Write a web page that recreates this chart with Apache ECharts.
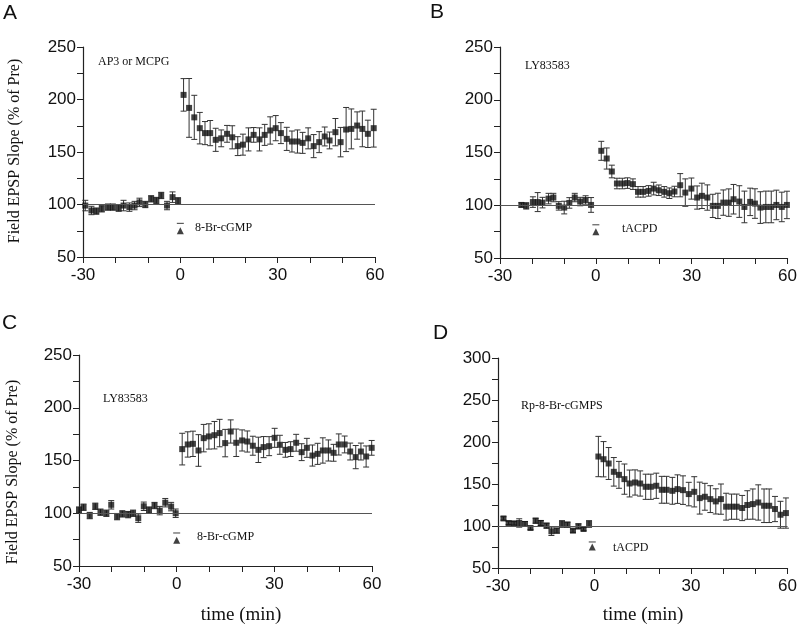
<!DOCTYPE html>
<html>
<head>
<meta charset="utf-8">
<script src="https://cdn.jsdelivr.net/npm/echarts@6/dist/echarts.min.js"></script>
<style>html,body{margin:0;padding:0;background:#fff}#c{width:800px;height:627px}</style>
</head>
<body>
<div id="c"></div>
<script>
// ---- data (time in min, field EPSP slope % of pre, error bar half-length) ----
const timesA = [-29.3,-27.4,-25.9,-24.2,-22.3,-20.8,-19.0,-17.5,-15.7,-14.1,-12.6,-10.8,-9.0,-7.4,-5.9,-4.1,-2.4,-0.7,
  1.0,2.7,4.3,6.0,7.6,9.2,10.9,12.6,14.4,16.0,17.7,19.3,21.0,22.6,24.4,26.0,27.7,29.4,31.0,32.8,34.4,36.1,37.7,39.4,41.1,42.8,44.5,46.0,47.8,49.4,51.1,52.7,54.5,56.1,57.8,59.6];
const valuesA = [99,94.3,93.7,95.9,97.5,97.5,96.5,99,97.5,99,102,100,105.4,103.8,108.6,99,107,103.5,
  204.4,192,183,172.7,168,168,161.6,163,167.3,164,155.6,157,162,166.3,162,166.3,170.5,172.7,168,162.5,160,160,158.7,163,155.6,159.4,164.8,161,168.9,159.4,171.4,172,175.2,172,167.3,172.7];
const errorsA = [5,4,3,3,3,3,3,5,4,4,4,3,3,3,3,4,5,3,
  15.5,28,21,15,11,12,11,8,8,11,9,10,11,7,11,10,13,12,10,11,10,11,10,10,11,10,9,8,13,14,21,19,13,17,13,18];

const timesB = [-23.3,-21.8,-19.7,-18.2,-16.7,-14.8,-13.3,-11.6,-9.9,-8.3,-6.6,-4.9,-3.2,-1.5,
  1.7,3.4,5.0,6.6,8.3,9.9,11.6,13.2,14.8,16.5,18.1,19.7,21.4,23.0,24.6,26.4,28.0,29.9,31.7,33.2,34.9,36.6,38.2,39.9,41.6,43.1,44.9,46.5,48.3,49.8,51.5,53.2,54.9,56.5,58.2,59.8];
const valuesB = [100.3,99.4,103,103,102.5,106.3,107.3,99.4,97.8,102.2,107.3,103.5,105,100.3,
  151.6,144.3,132,120.6,120.6,121,120,112.7,112.7,113.6,115.8,114.2,112.7,111.4,113,119,112,115.8,107.3,108.9,107.3,99.4,99.4,102.5,102.5,105.7,103.5,98.4,103.2,101.6,97.8,98.4,98.4,100.3,98.4,100.3];
const errorsB = [2,3,5,9,5,5,4,4,6,5,4,4,4,7,
  9,10,6,5,5,5,5,5,5,5,6,5,5,5,5,11,13,10,11,12,12,11,12,12,13,14,15,15,13,14,15,15,15,14,14,13];

const timesC = [-30,-28.6,-26.7,-25,-23.4,-21.6,-20.1,-18.3,-16.7,-14.9,-13.4,-11.8,-10.1,-8.5,-6.8,-5.2,-3.5,-1.7,-0.3,
  1.7,3.4,5.0,6.7,8.3,9.9,11.6,13.2,14.9,16.6,18.3,20.1,21.7,23.4,25.1,26.7,28.4,30.1,31.7,33.4,35,36.7,38.4,40.0,41.7,43.3,44.9,46.6,48.2,49.8,51.6,53.3,55.0,56.6,58.2,59.9];
const valuesC = [103,105.7,97.8,106.6,101,100,108,96.8,99.4,98.7,100,95.3,106.6,103,107.3,102.5,110,106.3,100,
  160.8,165.2,165.8,159.5,171.2,172.8,174,176,166.5,177.5,166.8,169,168,164,160.1,162.7,163.6,171.5,164.9,160.1,160.8,166.8,157.9,162,154.7,156.3,159.5,159.5,157.3,165.2,165.2,158.5,153.2,158.5,153.8,162];
const errorsC = [3,3,3,3,3,3,4,3,3,3,3,4,4,3,3,4,4,4,4,
  15,12,12,15,13,12,13,13,13,11,13,10,10,9,12,10,9,9,9,7,7,8,8,9,10,10,12,10,8,10,8,8,11,8,10,7];

const timesD = [-28.3,-26.7,-25,-23.4,-21.6,-19.9,-18.3,-16.7,-14.9,-13.4,-11.7,-10.1,-8.4,-6.7,-5.0,-3.4,-1.7,
  1.2,2.8,4.4,6.0,7.6,9.3,10.9,12.6,14.2,15.9,17.5,19.2,20.9,22.4,24.2,25.8,27.5,29.3,31.0,32.7,34.3,36.0,37.7,39.3,40.9,42.6,44.2,45.9,47.5,49.2,50.9,52.7,54.3,56.1,57.8,59.5];
const valuesD = [109,103.6,103.2,103.6,102.4,97.6,106.3,103.6,100.4,93.7,94.5,102.4,101.6,94.5,99.6,96.4,102.4,
  182.7,179.5,174.4,164.5,160.9,155.8,150.6,151.8,150.6,146.7,146.7,147.9,143.1,143.1,141.9,143.9,142.7,138,140.7,133.2,134.8,132,129.3,132,123,123,123,121.4,125,126.1,128,124.1,124.1,120.2,113.4,115.4];
const errorsD = [2,2,2,5,3,2,3,3,3,5,3,4,3,2,3,2,4,
  24,21,19,17,16,18,16,15,15,15,15,15,16,16,16,17,17,14,18,19,16,16,15,18,16,15,15,15,17,18,21,20,20,15,16,18];

// drug application marker (time, triangle level, bar level)
const stimTimes = [0, 0, 0, -0.7];
const stimTriangle = [75, 75, 74.5, 75];
const stimBar = [82, 81.5, 81.3, 81];

// axis ticks
const xTicks = {min: -30, max: 60, interval: 30};
const yMaxes = [250, 250, 250, 300];
const yMin = 50, yInterval = 50;

// labels
const panelLetters = ['A', 'B', 'C', 'D'];
const drugNames = ['8-Br-cGMP', 'tACPD', '8-Br-cGMP', 'tACPD'];
const conditionNames = ['AP3 or MCPG', 'LY83583', 'LY83583', 'Rp-8-Br-cGMPS'];
const yName = 'Field EPSP Slope (% of Pre)';
const xName = 'time (min)';

// ---- layout ----
const grids = [
  {left: 83, top: 47, width: 292, height: 210},
  {left: 500, top: 47, width: 293, height: 211},
  {left: 79, top: 355, width: 293, height: 211},
  {left: 498, top: 358, width: 291, height: 210}
];
const letterPos = [[3, 13], [430, 12], [2, 323], [433, 333]];
const condPos = [[98, 62], [525, 66], [103, 399], [521, 406]];
const drugPos = [[195, 228], [622, 229], [197, 537], [613, 548]];

const allT = [timesA, timesB, timesC, timesD];
const allV = [valuesA, valuesB, valuesC, valuesD];
const allE = [errorsA, errorsB, errorsC, errorsD];

const ink = '#111';
const sans = 'Liberation Sans, Arial, sans-serif';
const serif = 'Liberation Serif, Times New Roman, serif';

function errRender(params, api) {
  const x = api.value(0), lo = api.value(1), hi = api.value(2);
  const a = api.coord([x, hi]), b = api.coord([x, lo]);
  const w = 3;
  const st = {stroke: '#333', lineWidth: 1};
  return {type: 'group', children: [
    {type: 'line', shape: {x1: a[0], y1: a[1], x2: b[0], y2: b[1]}, style: st},
    {type: 'line', shape: {x1: a[0] - w, y1: a[1], x2: a[0] + w, y2: a[1]}, style: st},
    {type: 'line', shape: {x1: b[0] - w, y1: b[1], x2: b[0] + w, y2: b[1]}, style: st}
  ]};
}

const xAxes = [], yAxes = [], series = [];
for (let i = 0; i < 4; i++) {
  xAxes.push({
    gridIndex: i, type: 'value', min: xTicks.min, max: xTicks.max, interval: xTicks.interval,
    axisLine: {show: true, onZero: false, lineStyle: {color: '#222', width: 1.2}},
    axisTick: {show: true, length: 6, lineStyle: {color: '#222'}},
    minorTick: {show: true, splitNumber: 3, length: 6, lineStyle: {color: '#222'}},
    splitLine: {show: false},
    axisLabel: {fontSize: 17, color: ink, fontFamily: sans, margin: 10}
  });
  yAxes.push({
    gridIndex: i, type: 'value', min: yMin, max: yMaxes[i], interval: yInterval,
    axisLine: {show: true, onZero: false, lineStyle: {color: '#222', width: 1.2}},
    axisTick: {show: true, length: 6, lineStyle: {color: '#222'}},
    minorTick: {show: true, splitNumber: 2, length: 6, lineStyle: {color: '#222'}},
    splitLine: {show: false},
    axisLabel: {fontSize: 17, color: ink, fontFamily: sans, margin: 7}
  });
  const t = allT[i], v = allV[i], e = allE[i];
  series.push({
    type: 'custom', xAxisIndex: i, yAxisIndex: i, renderItem: errRender, silent: true, z: 2,
    data: t.map((x, k) => [x, v[k] - e[k], v[k] + e[k]])
  });
  series.push({
    type: 'scatter', xAxisIndex: i, yAxisIndex: i, symbol: 'rect', symbolSize: 6, z: 3,
    itemStyle: {color: ink}, silent: true,
    data: t.map((x, k) => [x, v[k]]),
    markLine: {
      silent: true, symbol: 'none', label: {show: false},
      lineStyle: {color: '#555', width: 1, type: 'solid'},
      data: [[{coord: [xTicks.min, 100]}, {coord: [xTicks.max, 100]}]]
    }
  });
  series.push({
    type: 'scatter', xAxisIndex: i, yAxisIndex: i, symbol: 'triangle', symbolSize: 7, z: 3,
    itemStyle: {color: ink}, silent: true,
    data: [[stimTimes[i], stimTriangle[i]]]
  });
  series.push({
    type: 'scatter', xAxisIndex: i, yAxisIndex: i, symbol: 'rect', symbolSize: [7, 1.2], z: 3,
    itemStyle: {color: '#333'}, silent: true,
    data: [[stimTimes[i], stimBar[i]]]
  });
}

const graphic = [];
for (let i = 0; i < 4; i++) {
  graphic.push({type: 'text', x: letterPos[i][0], y: letterPos[i][1],
    style: {text: panelLetters[i], font: '21px ' + sans, fill: ink, align: 'left', verticalAlign: 'middle'}});
  graphic.push({type: 'text', x: condPos[i][0], y: condPos[i][1],
    style: {text: conditionNames[i], font: '12px ' + serif, fill: ink, align: 'left', verticalAlign: 'middle'}});
  graphic.push({type: 'text', x: drugPos[i][0], y: drugPos[i][1],
    style: {text: drugNames[i], font: '12px ' + serif, fill: ink, align: 'left', verticalAlign: 'middle'}});
}
graphic.push({type: 'text', x: 15, y: 151, rotation: Math.PI / 2,
  style: {text: yName, font: '16px ' + serif, fill: ink, align: 'center', verticalAlign: 'middle'}});
graphic.push({type: 'text', x: 13, y: 472, rotation: Math.PI / 2,
  style: {text: yName, font: '16px ' + serif, fill: ink, align: 'center', verticalAlign: 'middle'}});
graphic.push({type: 'text', x: 241, y: 615,
  style: {text: xName, font: '19px ' + serif, fill: ink, align: 'center', verticalAlign: 'middle'}});
graphic.push({type: 'text', x: 643, y: 615,
  style: {text: xName, font: '19px ' + serif, fill: ink, align: 'center', verticalAlign: 'middle'}});

const chart = echarts.init(document.getElementById('c'), null, {renderer: 'canvas'});
chart.setOption({
  backgroundColor: '#fff',
  animation: false,
  grid: grids,
  xAxis: xAxes,
  yAxis: yAxes,
  series: series,
  graphic: graphic
});
</script>
</body>
</html>
